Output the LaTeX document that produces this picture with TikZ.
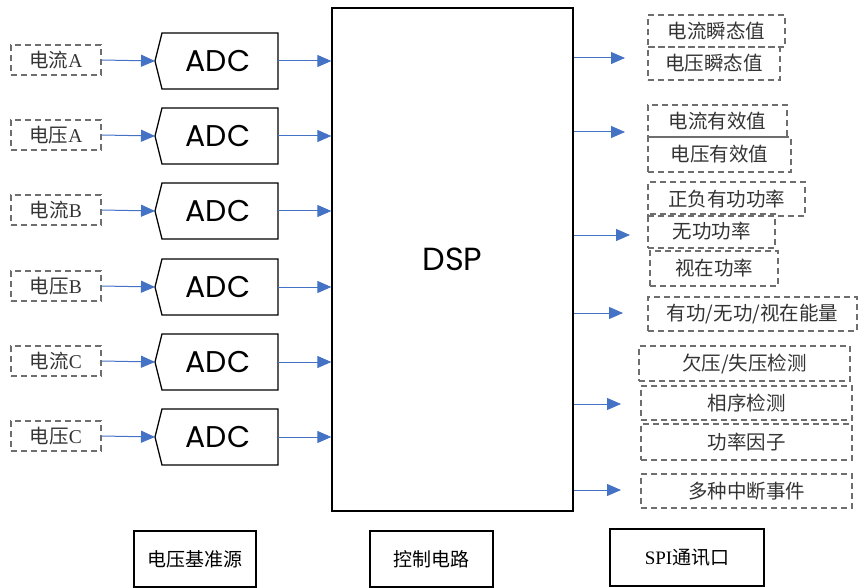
\documentclass[tikz,border=0pt]{standalone}
\usepackage{fontspec}
\setmainfont{Liberation Serif}
\newfontfamily\cjk{Noto Sans CJK SC}
\newfontfamily\comicf{Poppins}
\usetikzlibrary{arrows.meta}
\definecolor{arrblue}{HTML}{4472C4}
\definecolor{dashgray}{HTML}{6E6E6E}
\tikzset{
  lbl/.style={draw=dashgray, dashed, dash pattern=on 6pt off 4pt, line width=1.8pt, inner sep=0pt,
    text=black!80, font=\cjk\fontsize{19.5}{19.5}\selectfont},
  solidbox/.style={draw=black, line width=1.3pt, inner sep=0pt, font=\cjk\fontsize{19}{19}\selectfont},
  adcbox/.style={draw=black, line width=1.3pt},
  comictext/.style={font=\comicf\fontsize{30}{30}\selectfont},
  arr/.style={draw=arrblue, line width=1pt, -{Triangle[length=14pt,width=12pt]}}
}
\begin{document}
\begin{tikzpicture}[x=1pt,y=-1pt]
\useasboundingbox (0,0) rectangle (859,588);
% DSP
\node[draw=black, line width=1.3pt, minimum width=241pt, minimum height=503pt, font=\comicf\fontsize{32}{32}\selectfont] (dsp) at (452.5,259.5) {DSP};
% inputs and ADCs
\foreach \n/\c/\l/\y in {1/电流/A/61, 2/电压/A/136, 3/电流/B/211, 4/电压/B/287, 5/电流/C/362, 6/电压/C/437}{
  \node[lbl, minimum width=90pt, minimum height=30pt] (in\n) at (56,\y-1) {\cjk\c\rmfamily\l};
  \draw[adcbox] (162,\y-28) -- (278,\y-28) -- (278,\y+28) -- (162,\y+28) -- (155,\y) -- cycle;
  \coordinate (tip\n) at (155,\y);
  \coordinate (out\n) at (278,\y);
  \node[comictext] (adc\n) at (218,\y) {ADC};
  \draw[arr] (in\n.east) -- (tip\n);
  \draw[arr] (out\n) -- (dsp.west |- out\n);
}
% right outputs
\node[lbl, minimum width=137pt, minimum height=32pt] (o1) at (716.5,31) {电流瞬态值};
\node[lbl, minimum width=132pt, minimum height=33pt] (o2) at (714,63.5) {电压瞬态值};
\node[lbl, minimum width=139pt, minimum height=32pt] (o3) at (717.5,121) {电流有效值};
\node[lbl, minimum width=143pt, minimum height=35pt] (o4) at (719.5,154.5) {电压有效值};
\node[lbl, minimum width=157pt, minimum height=34pt] (o5) at (726.5,199) {正负有功功率};
\node[lbl, minimum width=127pt, minimum height=34pt] (o6) at (711.5,231) {无功功率};
\node[lbl, minimum width=128pt, minimum height=35pt] (o7) at (714,268.5) {视在功率};
\node[lbl, minimum width=209pt, minimum height=34pt] (o8) at (752.5,314) {有功/无功/视在能量};
\node[lbl, minimum width=211pt, minimum height=35pt] (o9) at (744.5,363.5) {欠压/失压检测};
\node[lbl, minimum width=211pt, minimum height=34pt] (o10) at (746.5,403) {相序检测};
\node[lbl, minimum width=211pt, minimum height=36pt] (o11) at (746.5,442) {功率因子};
\node[lbl, minimum width=211pt, minimum height=34pt] (o12) at (746.5,491) {多种中断事件};
% output arrows
\foreach \i/\y/\xe in {1/58/625, 2/132/625, 3/235/630, 4/313/623, 5/404/621, 6/490/621}{
  \coordinate (t\i) at (\xe,\y);
  \draw[arr] (dsp.east |- t\i) -- (t\i);
}
% bottom blocks
\node[solidbox, minimum width=122pt, minimum height=56pt] (b1) at (195,559) {电压基准源};
\node[solidbox, minimum width=123pt, minimum height=56pt] (b2) at (431.5,559) {控制电路};
\node[solidbox, minimum width=154pt, minimum height=57pt] (b3) at (687,557.5) {\rmfamily SPI\cjk 通讯口};
\end{tikzpicture}
\end{document}
